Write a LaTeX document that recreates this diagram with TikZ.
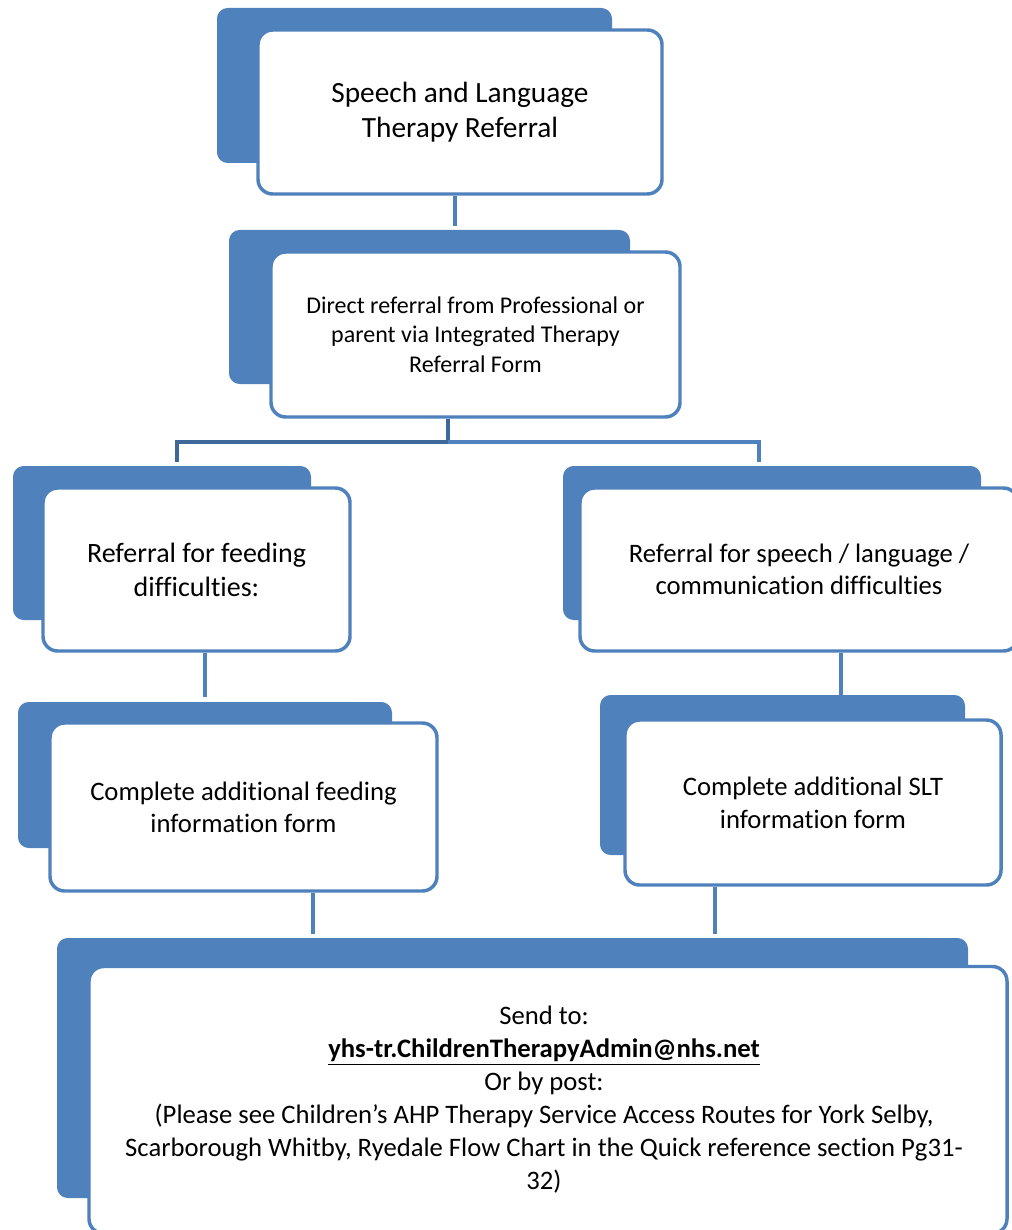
\documentclass[tikz,border=0pt]{standalone}
\usepackage{fontspec}
\setmainfont{Carlito}[Ligatures=NoCommon]
\usepackage{xcolor}
\definecolor{boxblue}{RGB}{79, 129, 189}
\definecolor{linkdark}{RGB}{62, 104, 153}

\begin{document}
\begin{tikzpicture}[x=0.75pt, y=-0.75pt,
    backbox/.style={fill=boxblue, rounded corners=8pt},
    frontbox/.style={draw=boxblue, line width=2.6pt, fill=white, rounded corners=11pt, align=center, inner sep=0pt},
    joinline/.style={draw=boxblue, line width=3pt}]
    \useasboundingbox[fill=white] (0,0) rectangle (1012,1230);

    % Back shapes
    \fill[backbox] (217,8) rectangle (612,163);
    \fill[backbox] (229,230) rectangle (630,384);
    \fill[backbox] (13,466) rectangle (311,620);
    \fill[backbox] (563,466) rectangle (981,620);
    \fill[backbox] (18,702) rectangle (392,848);
    \fill[backbox] (600,695) rectangle (965,855);
    \fill[backbox] (57,938) rectangle (968,1198);

    % Boxes
    \node[frontbox, minimum width=303pt, minimum height=123pt, font=\fontsize{22}{26}\selectfont] (title) at (460,112) {Speech and Language\\Therapy Referral};
    \node[frontbox, minimum width=306.75pt, minimum height=123.75pt, font=\fontsize{18}{22}\selectfont] (direct) at (475.5,334.5) {Direct referral from Professional or\\parent via Integrated Therapy\\Referral Form};
    \node[frontbox, minimum width=230.25pt, minimum height=122.25pt, font=\fontsize{21}{25.5}\selectfont] (feed) at (196.5,569.5) {Referral for feeding\\difficulties:};
    \node[frontbox, minimum width=328.5pt, minimum height=122.25pt, font=\fontsize{20}{23.6}\selectfont] (speech) at (799,569.5) {Referral for speech / language /\\communication difficulties};
    \node[frontbox, minimum width=290.25pt, minimum height=126pt, font=\fontsize{20}{24}\selectfont] (feedform) at (243.5,807) {Complete additional feeding\\information form};
    \node[frontbox, minimum width=282pt, minimum height=123.75pt, font=\fontsize{20}{24.75}\selectfont] (sltform) at (813,802.5) {Complete additional SLT\\information form};
    \node[frontbox, minimum width=688.5pt, minimum height=200.25pt, font=\fontsize{20}{24.75}\selectfont] (send) at (548,1100) {\hspace*{-6pt}Send to:\\\hspace*{-6pt}\textbf{\underline{yhs-tr.ChildrenTherapyAdmin@nhs.net}}\\\hspace*{-6pt}Or by post:\\\hspace*{-6pt}(Please see Children’s AHP Therapy Service Access Routes for York Selby,\\\hspace*{-6pt}Scarborough Whitby, Ryedale Flow Chart in the Quick reference section Pg31-\\\hspace*{-6pt}32)};

    % Connectors
    \coordinate (split) at (448,442);
    \coordinate (feedtop) at (177,462);
    \coordinate (speechtop) at (759,462);
    \draw[joinline] ([xshift=-3.75pt]title.south) -- ++(0,30);
    \draw[joinline, draw=linkdark] (split |- direct.south) -- (split);
    \draw[joinline, draw=linkdark] (split) -| (feedtop);
    \draw[joinline] (split) -| (speechtop);
    \draw[joinline] ([xshift=6pt]feed.south) -- ++(0,44);
    \draw[joinline] ([xshift=31.5pt]speech.south) -- ++(0,42);
    \draw[joinline] ([xshift=52pt]feedform.south) -- ++(0,41);
    \draw[joinline] ([xshift=-73.5pt]sltform.south) -- ++(0,47);
\end{tikzpicture}
\end{document}
